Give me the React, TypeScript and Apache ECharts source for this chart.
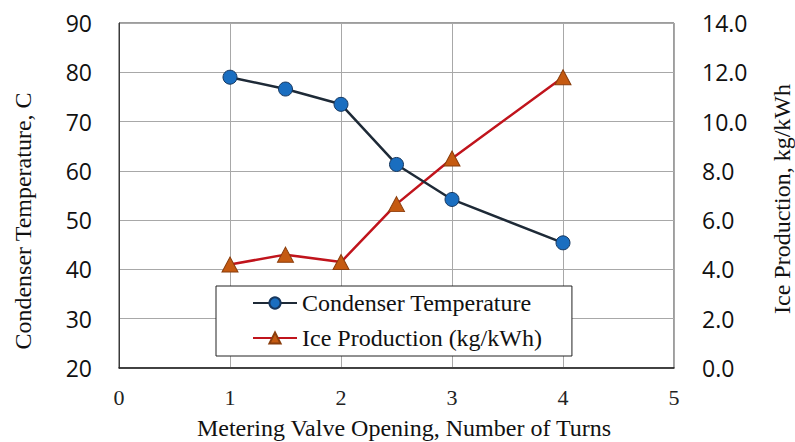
import React, { useEffect, useRef } from "react";
import * as echarts from "echarts";

const turns = [1, 1.5, 2, 2.5, 3, 4];
const condenserTemp = [79.0, 76.6, 73.5, 61.3, 54.2, 45.4];
const iceProduction = [4.2, 4.6, 4.3, 6.65, 8.5, 11.8];
const seriesNames = ["Condenser Temperature", "Ice Production (kg/kWh)"];
const axisNames = {
  x: "Metering Valve Opening, Number of Turns",
  yLeft: "Condenser Temperature, C",
  yRight: "Ice Production, kg/kWh",
};

const SERIF = "Liberation Serif";
const SANS = "Open Sans";

export default function App() {
  const ref = useRef<HTMLDivElement>(null);
  useEffect(() => {
    if (!ref.current) return;
    const chart = echarts.init(ref.current, undefined, { renderer: "svg" });
    chart.setOption({
      animation: false,
      backgroundColor: "#ffffff",
      grid: {
        left: 119,
        right: 121,
        top: 23,
        bottom: 74,
        show: true,
        borderColor: "#3a3a3a",
        borderWidth: 1,
      },
      legend: {
        orient: "vertical",
        left: 216,
        top: 286,
        width: 359,
        padding: [5, 30, 6, 36],
        itemGap: 11,
        itemWidth: 44,
        itemHeight: 14,
        backgroundColor: "#ffffff",
        borderColor: "#222222",
        borderWidth: 1,
        borderRadius: 0,
        textStyle: { fontFamily: SERIF, fontSize: 24, color: "#111111" },
        data: seriesNames,
      },
      xAxis: {
        type: "value",
        min: 0,
        max: 5,
        interval: 1,
        axisLine: { show: true, lineStyle: { color: "#222222", width: 1.5 } },
        axisTick: { show: false },
        splitLine: { show: true, lineStyle: { color: "#a8a8a8", width: 1 } },
        axisLabel: {
          margin: 18,
          fontFamily: SERIF,
          fontSize: 22,
          color: "#222222",
        },
      },
      yAxis: [
        {
          type: "value",
          min: 20,
          max: 90,
          interval: 10,
          axisLine: { show: true, lineStyle: { color: "#3a3a3a", width: 1 } },
          axisTick: { show: false },
          splitLine: { show: true, lineStyle: { color: "#a8a8a8", width: 1 } },
          axisLabel: {
            margin: 27,
            fontFamily: SANS,
            fontSize: 23,
            color: "#111111",
          },
        },
        {
          type: "value",
          min: 0,
          max: 14,
          interval: 2,
          position: "right",
          axisLine: { show: false },
          axisTick: { show: false },
          splitLine: { show: false },
          axisLabel: {
            margin: 28,
            fontFamily: SANS,
            fontSize: 23,
            color: "#111111",
            formatter: (v: number) => v.toFixed(1),
          },
        },
      ],
      graphic: [
        {
          type: "text",
          x: 23,
          y: 221,
          rotation: Math.PI / 2,
          style: {
            text: axisNames.yLeft,
            fontFamily: SERIF,
            fontSize: 24,
            fill: "#111111",
            textAlign: "center",
            textVerticalAlign: "middle",
          },
        },
        {
          type: "text",
          x: 782,
          y: 199,
          rotation: Math.PI / 2,
          style: {
            text: axisNames.yRight,
            fontFamily: SERIF,
            fontSize: 24,
            fill: "#111111",
            textAlign: "center",
            textVerticalAlign: "middle",
          },
        },
        {
          type: "text",
          x: 404,
          y: 428,
          style: {
            text: axisNames.x,
            fontFamily: SERIF,
            fontSize: 24,
            fill: "#111111",
            textAlign: "center",
            textVerticalAlign: "middle",
          },
        },
      ],
      series: [
        {
          name: seriesNames[0],
          type: "line",
          yAxisIndex: 0,
          data: turns.map((t, i) => [t, condenserTemp[i]]),
          symbol: "circle",
          symbolSize: 14,
          lineStyle: { color: "#1e2a37", width: 2.5 },
          itemStyle: { color: "#1a6ec0", borderColor: "#17375e", borderWidth: 1 },
          z: 3,
        },
        {
          name: seriesNames[1],
          type: "line",
          yAxisIndex: 1,
          data: turns.map((t, i) => [t, iceProduction[i]]),
          symbol: "triangle",
          symbolSize: [16, 15],
          lineStyle: { color: "#c0141c", width: 2.5 },
          itemStyle: { color: "#c55a11", borderColor: "#8a3d0c", borderWidth: 1 },
          z: 2,
        },
      ],
    });
    return () => chart.dispose();
  }, []);
  return <div ref={ref} style={{ width: 795, height: 442, position: "absolute", left: 0, top: 0 }} />;
}
